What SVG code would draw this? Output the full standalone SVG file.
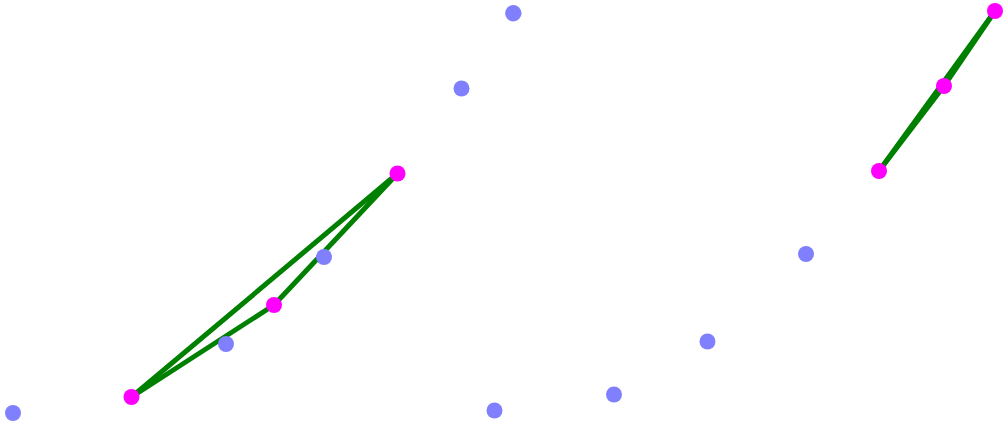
<svg xmlns="http://www.w3.org/2000/svg" width="1003" height="423" viewBox="0 0 1003 423">
<style>
.e{stroke:#008000;stroke-width:5;fill:none;stroke-linecap:round}
.b{fill:#8080ff}
.m{fill:#ff00ff}
</style>
<rect width="1003" height="423" fill="#fff"/>
<g id="connectors">
<line class="e" x1="131.5" y1="397" x2="397.5" y2="173.5"/>
<line class="e" x1="131.5" y1="397" x2="274" y2="305"/>
<line class="e" x1="274" y1="305" x2="397.5" y2="173.5"/>
<line class="e" x1="879" y1="171" x2="944" y2="86"/>
<line class="e" x1="944" y1="86" x2="995" y2="11"/>
<line class="e" x1="879" y1="171" x2="995" y2="11"/>
</g>
<g id="n1"><circle class="b" cx="513.3" cy="13.3" r="8.2"/></g>
<g id="n2"><circle class="b" cx="461.5" cy="88.5" r="8"/></g>
<g id="n3"><circle class="b" cx="324" cy="257" r="8"/></g>
<g id="n4"><circle class="b" cx="226" cy="344" r="8"/></g>
<g id="n5"><circle class="b" cx="13" cy="413" r="8"/></g>
<g id="n6"><circle class="b" cx="494.5" cy="410.5" r="8"/></g>
<g id="n7"><circle class="b" cx="614" cy="394.5" r="8"/></g>
<g id="n8"><circle class="b" cx="707.5" cy="341.5" r="8"/></g>
<g id="n9"><circle class="b" cx="806" cy="254" r="8"/></g>
<g id="m1"><circle class="m" cx="131.5" cy="397" r="8"/></g>
<g id="m2"><circle class="m" cx="274" cy="305" r="8"/></g>
<g id="m3"><circle class="m" cx="397.5" cy="173.5" r="8"/></g>
<g id="m4"><circle class="m" cx="879" cy="171" r="8"/></g>
<g id="m5"><circle class="m" cx="944" cy="86" r="8"/></g>
<g id="m6"><circle class="m" cx="995" cy="11" r="8"/></g>
</svg>
